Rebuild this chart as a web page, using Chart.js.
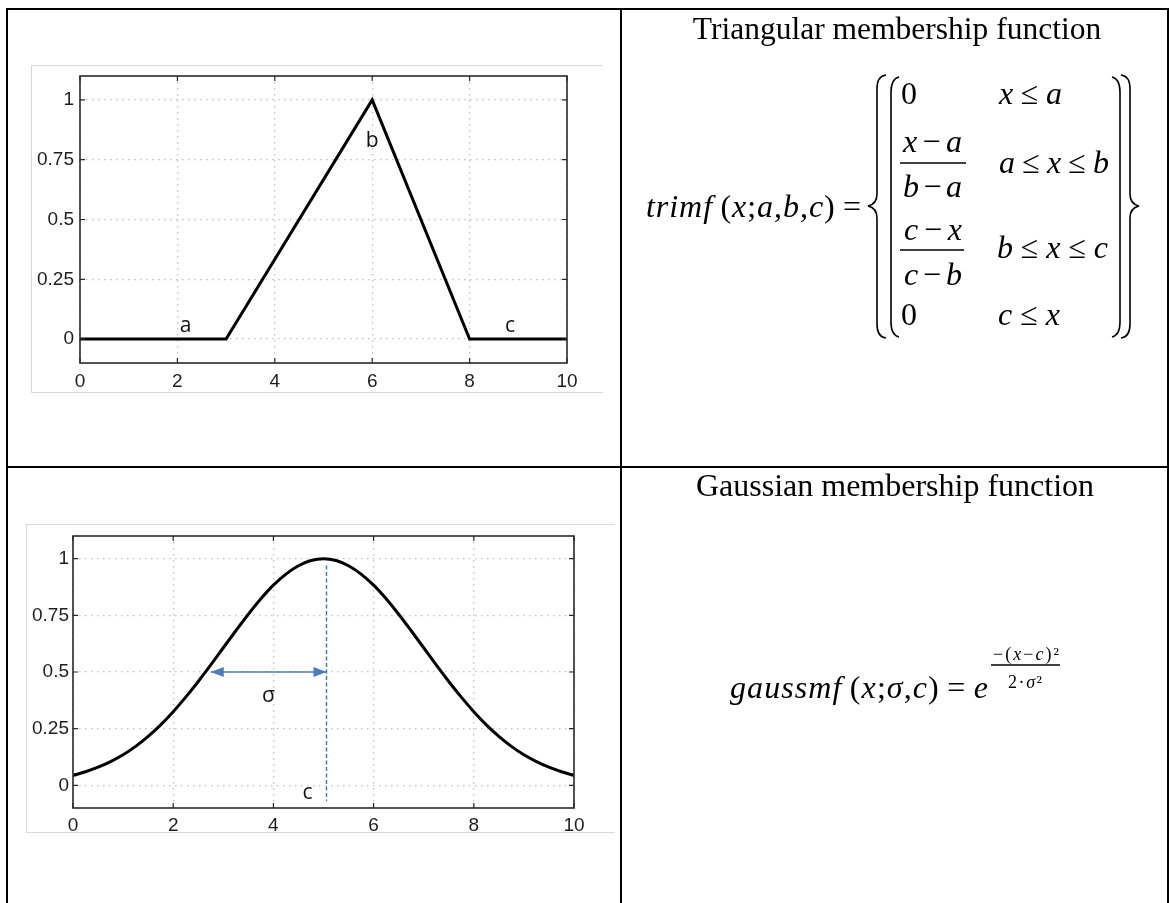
<!DOCTYPE html>
<html>
<head>
<meta charset="utf-8">
<title>Membership functions</title>
<script src="https://cdn.jsdelivr.net/npm/chart.js@4.4.0/dist/chart.umd.min.js"></script>
<style>
  html, body { margin: 0; padding: 0; background: #fff; }
  body { width: 1170px; height: 903px; position: relative; overflow: hidden; }
  .rule { position: absolute; background: #000; }
  .frame { position: absolute; box-sizing: border-box; border: 1px solid #d9d9d9; border-right: none; }
  canvas { position: absolute; }
  .txt { position: absolute; white-space: nowrap; line-height: 1; color: #000;
         font-family: "Liberation Serif", "Times New Roman", serif; }
  .txt i { font-style: italic; }
  svg { position: absolute; left: 0; top: 0; }
</style>
</head>
<body>

<!-- table lines -->
<div class="rule" style="left:6px;top:8px;width:1163px;height:2px"></div>
<div class="rule" style="left:6px;top:8px;width:2px;height:895px"></div>
<div class="rule" style="left:1167px;top:8px;width:2px;height:895px"></div>
<div class="rule" style="left:620px;top:8px;width:2px;height:895px"></div>
<div class="rule" style="left:6px;top:466px;width:1163px;height:2px"></div>

<!-- picture frames round the two plots -->
<div class="frame" style="left:31px;top:65px;width:572px;height:328px"></div>
<div class="frame" style="left:26px;top:524px;width:589px;height:309px"></div>

<canvas id="triChart" width="572" height="328" style="left:31px;top:65px"></canvas>
<canvas id="gaussChart" width="589" height="309" style="left:26px;top:524px"></canvas>

<!-- brackets and fraction bars of the formulas -->
<svg width="1170" height="903">
  <g fill="none" stroke="#000" stroke-width="1.6">
    <path d="M886 75 Q877 76 877 89 L877 194 Q877 204 868 206 Q877 208 877 218 L877 324 Q877 337 886 338"/>
    <path d="M899 77 Q891 79 891 92 L891 322 Q891 335 899 337"/>
    <path d="M1112 77 Q1120 79 1120 92 L1120 322 Q1120 335 1112 337"/>
    <path d="M1121 75 Q1130 76 1130 89 L1130 194 Q1130 204 1139 206 Q1130 208 1130 218 L1130 324 Q1130 337 1121 338"/>
  </g>
  <g stroke="#000" stroke-width="1.3">
    <line x1="900" y1="163" x2="966" y2="163"/>
    <line x1="900" y1="250" x2="964" y2="250"/>
    <line x1="991" y1="665" x2="1060" y2="665"/>
  </g>
</svg>

<div id="math"></div>

<script>
// axis ticks shared by both plots
const xTicks = [0, 2, 4, 6, 8, 10];
const yTicks = [0, 0.25, 0.5, 0.75, 1];
const yTickLabels = ['0', '0.25', '0.5', '0.75', '1'];

// triangular mf, a = 3, b = 6, c = 8
const triX = [0, 3, 6, 8, 10];
const triY = [0, 0, 1, 0, 0];

// gaussian mf (c = 5, sigma = 2), values every 0.25
const gaussX = [0, 0.25, 0.5, 0.75, 1, 1.25, 1.5, 1.75, 2, 2.25, 2.5, 2.75, 3, 3.25, 3.5, 3.75, 4, 4.25, 4.5, 4.75, 5,
                5.25, 5.5, 5.75, 6, 6.25, 6.5, 6.75, 7, 7.25, 7.5, 7.75, 8, 8.25, 8.5, 8.75, 9, 9.25, 9.5, 9.75, 10];
const gaussY = [0.044, 0.06, 0.08, 0.105, 0.135, 0.172, 0.216, 0.267, 0.325, 0.389, 0.458, 0.531, 0.607, 0.682, 0.755, 0.823, 0.883, 0.932, 0.969, 0.992, 1,
                0.992, 0.969, 0.932, 0.883, 0.823, 0.755, 0.682, 0.607, 0.531, 0.458, 0.389, 0.325, 0.267, 0.216, 0.172, 0.135, 0.105, 0.08, 0.06, 0.044];

// blue helper marks on the gaussian plot
const centerLineX = [5.06, 5.06];
const centerLineY = [0.97, -0.07];
const sigmaArrowX = [2.75, 5.06];
const sigmaArrowY = [0.5, 0.5];

// letters written on the plots (data units, baseline)
const triNotes = [
    { text: 'a', x: 2.17, y: 0.03 },
    { text: 'b', x: 6.0, y: 0.805 },
    { text: 'c', x: 8.83, y: 0.03 },
];
const gaussNotes = [
    { text: 'σ', x: 3.9, y: 0.366 },
    { text: 'c', x: 4.68, y: -0.062 },
];

const toPoints = (xs, ys) => xs.map((x, i) => ({ x: x, y: ys[i] }));

// matlab style box, inward ticks, annotation letters and arrow heads
function boxPlugin(notes, arrow) {
    return {
        id: 'matlabBox',
        afterDatasetsDraw(chart) {
            const ctx = chart.ctx;
            const a = chart.chartArea;
            const sx = chart.scales.x, sy = chart.scales.y;
            ctx.save();
            ctx.strokeStyle = '#2a2a2a';
            ctx.lineWidth = 1.6;
            ctx.strokeRect(a.left, a.top, a.right - a.left, a.bottom - a.top);
            ctx.lineWidth = 1.2;
            ctx.beginPath();
            xTicks.forEach(v => {
                const px = sx.getPixelForValue(v);
                ctx.moveTo(px, a.bottom); ctx.lineTo(px, a.bottom - 5);
                ctx.moveTo(px, a.top); ctx.lineTo(px, a.top + 5);
            });
            yTicks.forEach(v => {
                const py = sy.getPixelForValue(v);
                ctx.moveTo(a.left, py); ctx.lineTo(a.left + 5, py);
                ctx.moveTo(a.right, py); ctx.lineTo(a.right - 5, py);
            });
            ctx.stroke();

            if (arrow) {
                ctx.fillStyle = '#4a7dbf';
                const y = sy.getPixelForValue(arrow.y[0]);
                [[arrow.x[0], 1], [arrow.x[1], -1]].forEach(([v, dir]) => {
                    const px = sx.getPixelForValue(v);
                    ctx.beginPath();
                    ctx.moveTo(px, y);
                    ctx.lineTo(px + dir * 13, y - 5);
                    ctx.lineTo(px + dir * 13, y + 5);
                    ctx.closePath();
                    ctx.fill();
                });
            }

            ctx.fillStyle = '#111';
            ctx.font = '21px "Open Sans", "DejaVu Sans", sans-serif';
            ctx.textAlign = 'center';
            ctx.textBaseline = 'alphabetic';
            notes.forEach(n => {
                ctx.fillText(n.text, sx.getPixelForValue(n.x), sy.getPixelForValue(n.y));
            });
            ctx.restore();
        }
    };
}

// fixed axis sizes, no extra label padding so the plot box lands where it should
function fixSize(prop, size) {
    return s => {
        s[prop] = size;
        s.paddingTop = 0; s.paddingBottom = 0;
        s.paddingLeft = 0; s.paddingRight = 0;
    };
}

function axes(yWidth, xHeight, yPad, xPad) {
    const tickFont = { family: '"Liberation Sans", Arial, sans-serif', size: 19 };
    return {
        x: {
            type: 'linear', min: 0, max: 10,
            afterBuildTicks: s => { s.ticks = xTicks.map(v => ({ value: v })); },
            afterFit: fixSize('height', xHeight),
            ticks: { font: tickFont, color: '#1e1e1e', padding: xPad, maxRotation: 0,
                     callback: v => String(v) },
            grid: { color: '#c2c2c2', lineWidth: 1.3, drawTicks: false },
            border: { display: false, dash: [1.5, 4.5] }
        },
        y: {
            type: 'linear', min: -0.1, max: 1.1,
            afterBuildTicks: s => { s.ticks = yTicks.map(v => ({ value: v })); },
            afterFit: fixSize('width', yWidth),
            ticks: { font: tickFont, color: '#1e1e1e', padding: yPad,
                     callback: v => yTickLabels[yTicks.indexOf(v)] },
            grid: { color: '#c2c2c2', lineWidth: 1.3, drawTicks: false },
            border: { display: false, dash: [1.5, 4.5] }
        }
    };
}

const baseOptions = {
    responsive: false,
    animation: false,
    devicePixelRatio: 1,
    plugins: { legend: { display: false }, tooltip: { enabled: false } },
    elements: { point: { radius: 0 } }
};

new Chart(document.getElementById('triChart'), {
    type: 'line',
    data: {
        datasets: [{
            data: toPoints(triX, triY),
            borderColor: '#000',
            borderWidth: 3,
            tension: 0
        }]
    },
    options: Object.assign({}, baseOptions, {
        layout: { padding: { top: 11, right: 36, left: 0, bottom: 0 } },
        scales: axes(49, 30, 6, 7)
    }),
    plugins: [boxPlugin(triNotes, null)]
});

new Chart(document.getElementById('gaussChart'), {
    type: 'line',
    data: {
        datasets: [{
            data: toPoints(gaussX, gaussY),
            borderColor: '#000',
            borderWidth: 3,
            cubicInterpolationMode: 'monotone'
        }, {
            data: toPoints(centerLineX, centerLineY),
            borderColor: '#3f74c0',
            borderWidth: 1.4,
            borderDash: [4, 2.5]
        }, {
            data: toPoints(sigmaArrowX, sigmaArrowY),
            borderColor: '#4a7dbf',
            borderWidth: 1.6
        }]
    },
    options: Object.assign({}, baseOptions, {
        layout: { padding: { top: 12, right: 41, left: 0, bottom: 0 } },
        scales: axes(47, 25, 4, 6)
    }),
    plugins: [boxPlugin(gaussNotes, { x: sigmaArrowX, y: sigmaArrowY })]
});

// formula text on the right hand side of the table
// [html, x, baseline, font size, fit width or 0, centred]
const mathItems = [
    ['Triangular membership function', 897, 39.5, 31.5, 0, true],
    ['<i>trimf</i>&#8201;(<i>x</i>;<i>a</i>,<i>b</i>,<i>c</i>)&#8201;=', 646, 217, 32, 215, false],
    ['0', 901, 104, 32, 0, false],
    ['<i>x</i> ≤ <i>a</i>', 999, 104, 32, 63, false],
    ['<i>x</i> − <i>a</i>', 903, 152, 32, 59, false],
    ['<i>b</i> − <i>a</i>', 903, 197, 32, 59, false],
    ['<i>a</i> ≤ <i>x</i> ≤ <i>b</i>', 999, 173, 32, 110, false],
    ['<i>c</i> − <i>x</i>', 904, 240, 32, 58, false],
    ['<i>c</i> − <i>b</i>', 904, 285, 32, 58, false],
    ['<i>b</i> ≤ <i>x</i> ≤ <i>c</i>', 997, 258, 32, 111, false],
    ['0', 901, 325, 32, 0, false],
    ['<i>c</i> ≤ <i>x</i>', 998, 325, 32, 62, false],
    ['Gaussian membership function', 895, 496, 32, 0, true],
    ['<i>gaussmf</i>&#8201;(<i>x</i>;<i>σ</i>,<i>c</i>)&#8201;=&#8201;<i>e</i>', 730, 698, 32, 258, false],
    ['−(<i>x</i>−<i>c</i>)²', 993, 660, 18, 66, false],
    ['2·<i>σ</i>²', 1008, 688, 18, 34, false],
];

const mathBox = document.getElementById('math');
mathItems.forEach(([html, x, base, size, fitW, centred]) => {
    const el = document.createElement('div');
    el.className = 'txt';
    el.innerHTML = html;
    el.style.fontSize = size + 'px';
    el.style.top = (base - 0.8375 * size) + 'px';
    mathBox.appendChild(el);
    if (fitW) {
        const w = el.getBoundingClientRect().width;
        const n = el.textContent.length - 1;
        if (n > 0) el.style.letterSpacing = ((fitW - w) / n) + 'px';
    }
    if (centred) {
        el.style.left = (x - el.getBoundingClientRect().width / 2) + 'px';
    } else {
        el.style.left = x + 'px';
    }
});
</script>
</body>
</html>
